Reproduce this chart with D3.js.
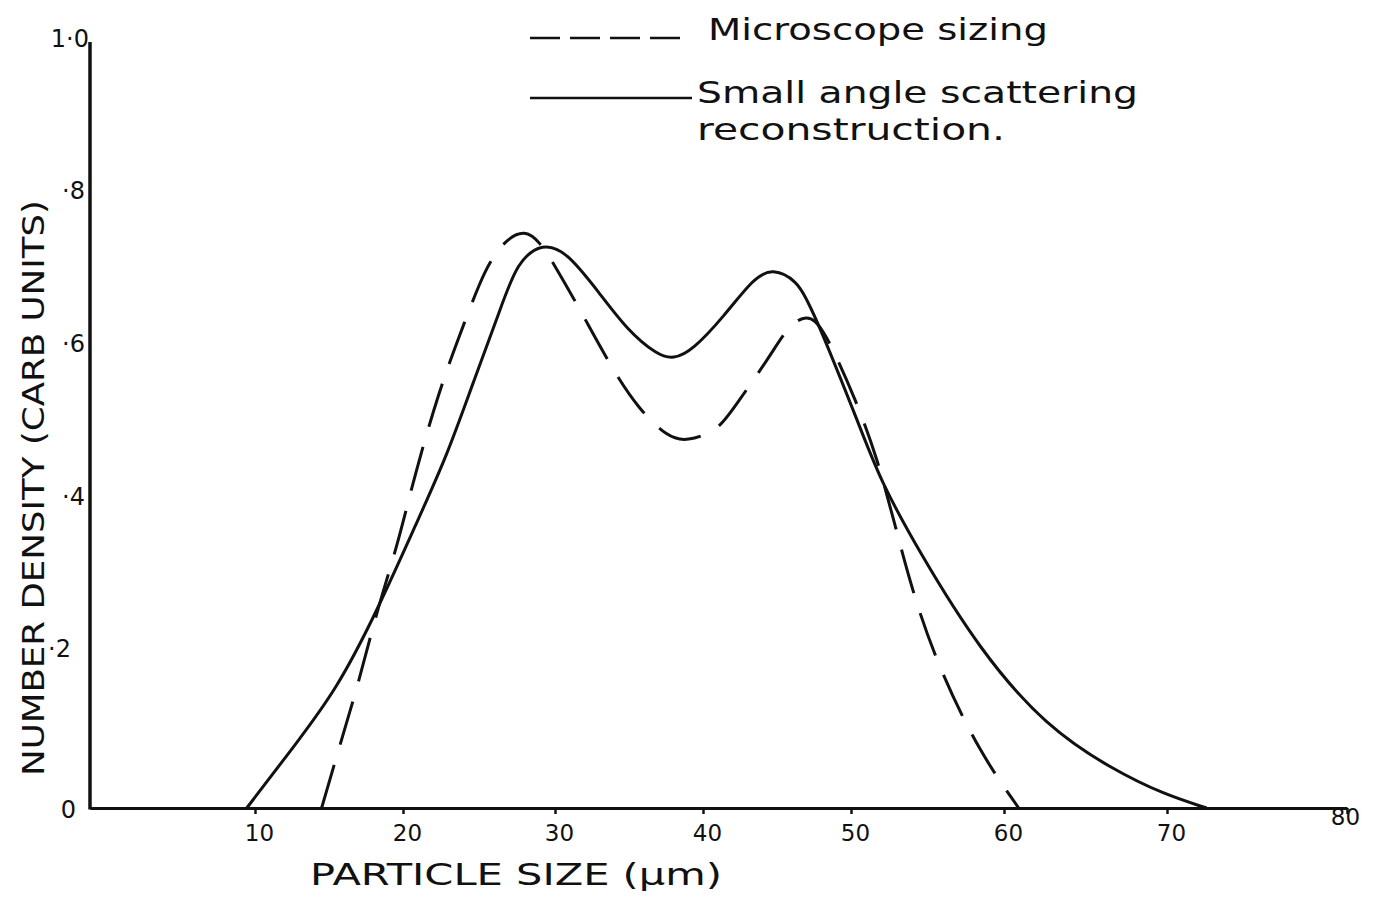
<!DOCTYPE html>
<html>
<head>
<meta charset="utf-8">
<script src="https://cdn.jsdelivr.net/npm/d3@7"></script>
<style>
  body { margin: 0; background: #fff; }
  svg text { font-family: "DejaVu Sans", sans-serif; fill: #111; }
</style>
</head>
<body>
<svg id="chart" width="1376" height="899"></svg>
<script>
// particle size distribution: microscope sizing vs small angle scattering
var xTicks = [10, 20, 30, 40, 50, 60, 70, 80];
var yTicks = [0, 0.2, 0.4, 0.6, 0.8, 1.0];
var yTickLabels = ["0", "·2", "·4", "·6", "·8", "1·0"];

// dashed curve (microscope sizing)
var microSize = [14.5, 15.7, 17.0, 18.2, 19.6, 20.8, 22.4, 23.6, 25.1, 25.9, 26.8, 28.0, 29.0, 29.9, 31.7,
                 33.9, 35.7, 37.6, 38.9, 41.0, 42.0, 44.5, 45.7, 47.0, 48.1, 50.4, 51.7, 52.8, 54.1, 55.8, 58.4, 60.9];
var microDensity = [0, 0.08, 0.164, 0.256, 0.342, 0.439, 0.548, 0.613, 0.692, 0.722, 0.745, 0.758, 0.742, 0.714, 0.653,
                    0.574, 0.522, 0.486, 0.480, 0.495, 0.522, 0.591, 0.630, 0.648, 0.632, 0.531, 0.459, 0.377, 0.277, 0.181, 0.073, 0];

// solid curve (small angle scattering reconstruction)
var scatSize = [9.5, 12.8, 15.5, 18.2, 20.9, 22.9, 24.6, 26.4, 27.5, 29.2, 30.8, 33.0, 34.9, 36.9, 38.0, 39.3,
                41.4, 43.4, 44.7, 46.4, 47.0, 47.7, 50.6, 51.9, 54.5, 58.4, 62.6, 66.7, 69.8, 72.2];
var scatDensity = [0, 0.085, 0.155, 0.256, 0.374, 0.462, 0.557, 0.653, 0.716, 0.741, 0.729, 0.675, 0.626, 0.594, 0.588, 0.600,
                   0.644, 0.694, 0.708, 0.690, 0.666, 0.640, 0.499, 0.430, 0.334, 0.207, 0.106, 0.050, 0.018, 0];

var legendLabels = ["Microscope sizing", "Small angle scattering", "reconstruction."];

(function () {
	var svg = d3.select("#chart");

	// hand drawn axis: tick spacing is not quite even, so a polylinear scale
	var x = d3.scaleLinear()
		.domain([0, 10, 20, 30, 40, 50, 60, 70, 80])
		.range([90, 255, 403, 555, 703, 851, 1004, 1167, 1347]);
	var y = d3.scaleLinear().domain([0, 1]).range([808, 45]);

	// x axis
	var xAxis = svg.append("g")
		.attr("transform", "translate(0," + y(0) + ")")
		.call(d3.axisBottom(x).tickValues(xTicks).tickSize(6).tickSizeOuter(0).tickFormat(d3.format("d")));
	xAxis.select(".domain").attr("stroke", "#111").attr("stroke-width", 3);
	xAxis.selectAll(".tick line").attr("stroke", "#111").attr("stroke-width", 2.5);
	xAxis.selectAll(".tick text")
		.attr("font-size", 23)
		.attr("fill", "#111")
		.attr("y", function (d) { return d === 80 ? 1 : 17; })
		.attr("dx", function (d) { return d === 80 ? -2 : 4; });

	// y axis
	var yAxis = svg.append("g")
		.attr("transform", "translate(" + x(0) + ",0)")
		.call(d3.axisLeft(y).tickValues(yTicks).tickSize(0).tickSizeOuter(0)
			.tickFormat(function (d, i) { return yTickLabels[i]; }));
	yAxis.select(".domain").attr("stroke", "#111").attr("stroke-width", 3.5)
		.attr("d", "M0," + (y(1) - 3) + "V" + (y(0) + 1.5));
	yAxis.selectAll(".tick text")
		.attr("font-size", 24)
		.attr("fill", "#111")
		.attr("x", function (d) { return d === 0 ? -14 : (d === 1 ? -1 : (d < 0.3 ? -19 : -5)); })
		.attr("dy", function (d) { return d === 0 ? "0.4em" : "0.05em"; });

	// axis titles
	svg.append("text")
		.attr("x", 310).attr("y", 885)
		.attr("font-size", 31)
		.attr("textLength", 412).attr("lengthAdjust", "spacingAndGlyphs")
		.text("PARTICLE SIZE (µm)");

	svg.append("text")
		.attr("transform", "translate(44,776) rotate(-90)")
		.attr("font-size", 31)
		.attr("textLength", 576).attr("lengthAdjust", "spacingAndGlyphs")
		.text("NUMBER DENSITY (CARB UNITS)");

	// curves
	var line = d3.line()
		.x(function (d) { return x(d[0]); })
		.y(function (d) { return y(d[1]); })
		.curve(d3.curveBasis);

	svg.append("path")
		.datum(d3.zip(scatSize, scatDensity))
		.attr("d", line)
		.attr("fill", "none")
		.attr("stroke", "#111")
		.attr("stroke-width", 3);

	svg.append("path")
		.datum(d3.zip(microSize, microDensity))
		.attr("d", line)
		.attr("fill", "none")
		.attr("stroke", "#111")
		.attr("stroke-width", 3)
		.attr("stroke-dasharray", "45,21");

	// legend
	var legend = svg.append("g");
	legend.append("line")
		.attr("x1", 530).attr("x2", 688).attr("y1", 38).attr("y2", 38)
		.attr("stroke", "#111").attr("stroke-width", 2.5)
		.attr("stroke-dasharray", "30,10");
	legend.append("line")
		.attr("x1", 530).attr("x2", 692).attr("y1", 98).attr("y2", 98)
		.attr("stroke", "#111").attr("stroke-width", 2.5);

	legend.append("text")
		.attr("x", 708).attr("y", 40)
		.attr("font-size", 31)
		.attr("textLength", 340).attr("lengthAdjust", "spacingAndGlyphs")
		.text(legendLabels[0]);
	legend.append("text")
		.attr("x", 697).attr("y", 103)
		.attr("font-size", 31)
		.attr("textLength", 441).attr("lengthAdjust", "spacingAndGlyphs")
		.text(legendLabels[1]);
	legend.append("text")
		.attr("x", 697).attr("y", 140)
		.attr("font-size", 31)
		.attr("textLength", 308).attr("lengthAdjust", "spacingAndGlyphs")
		.text(legendLabels[2]);
})();
</script>
</body>
</html>
